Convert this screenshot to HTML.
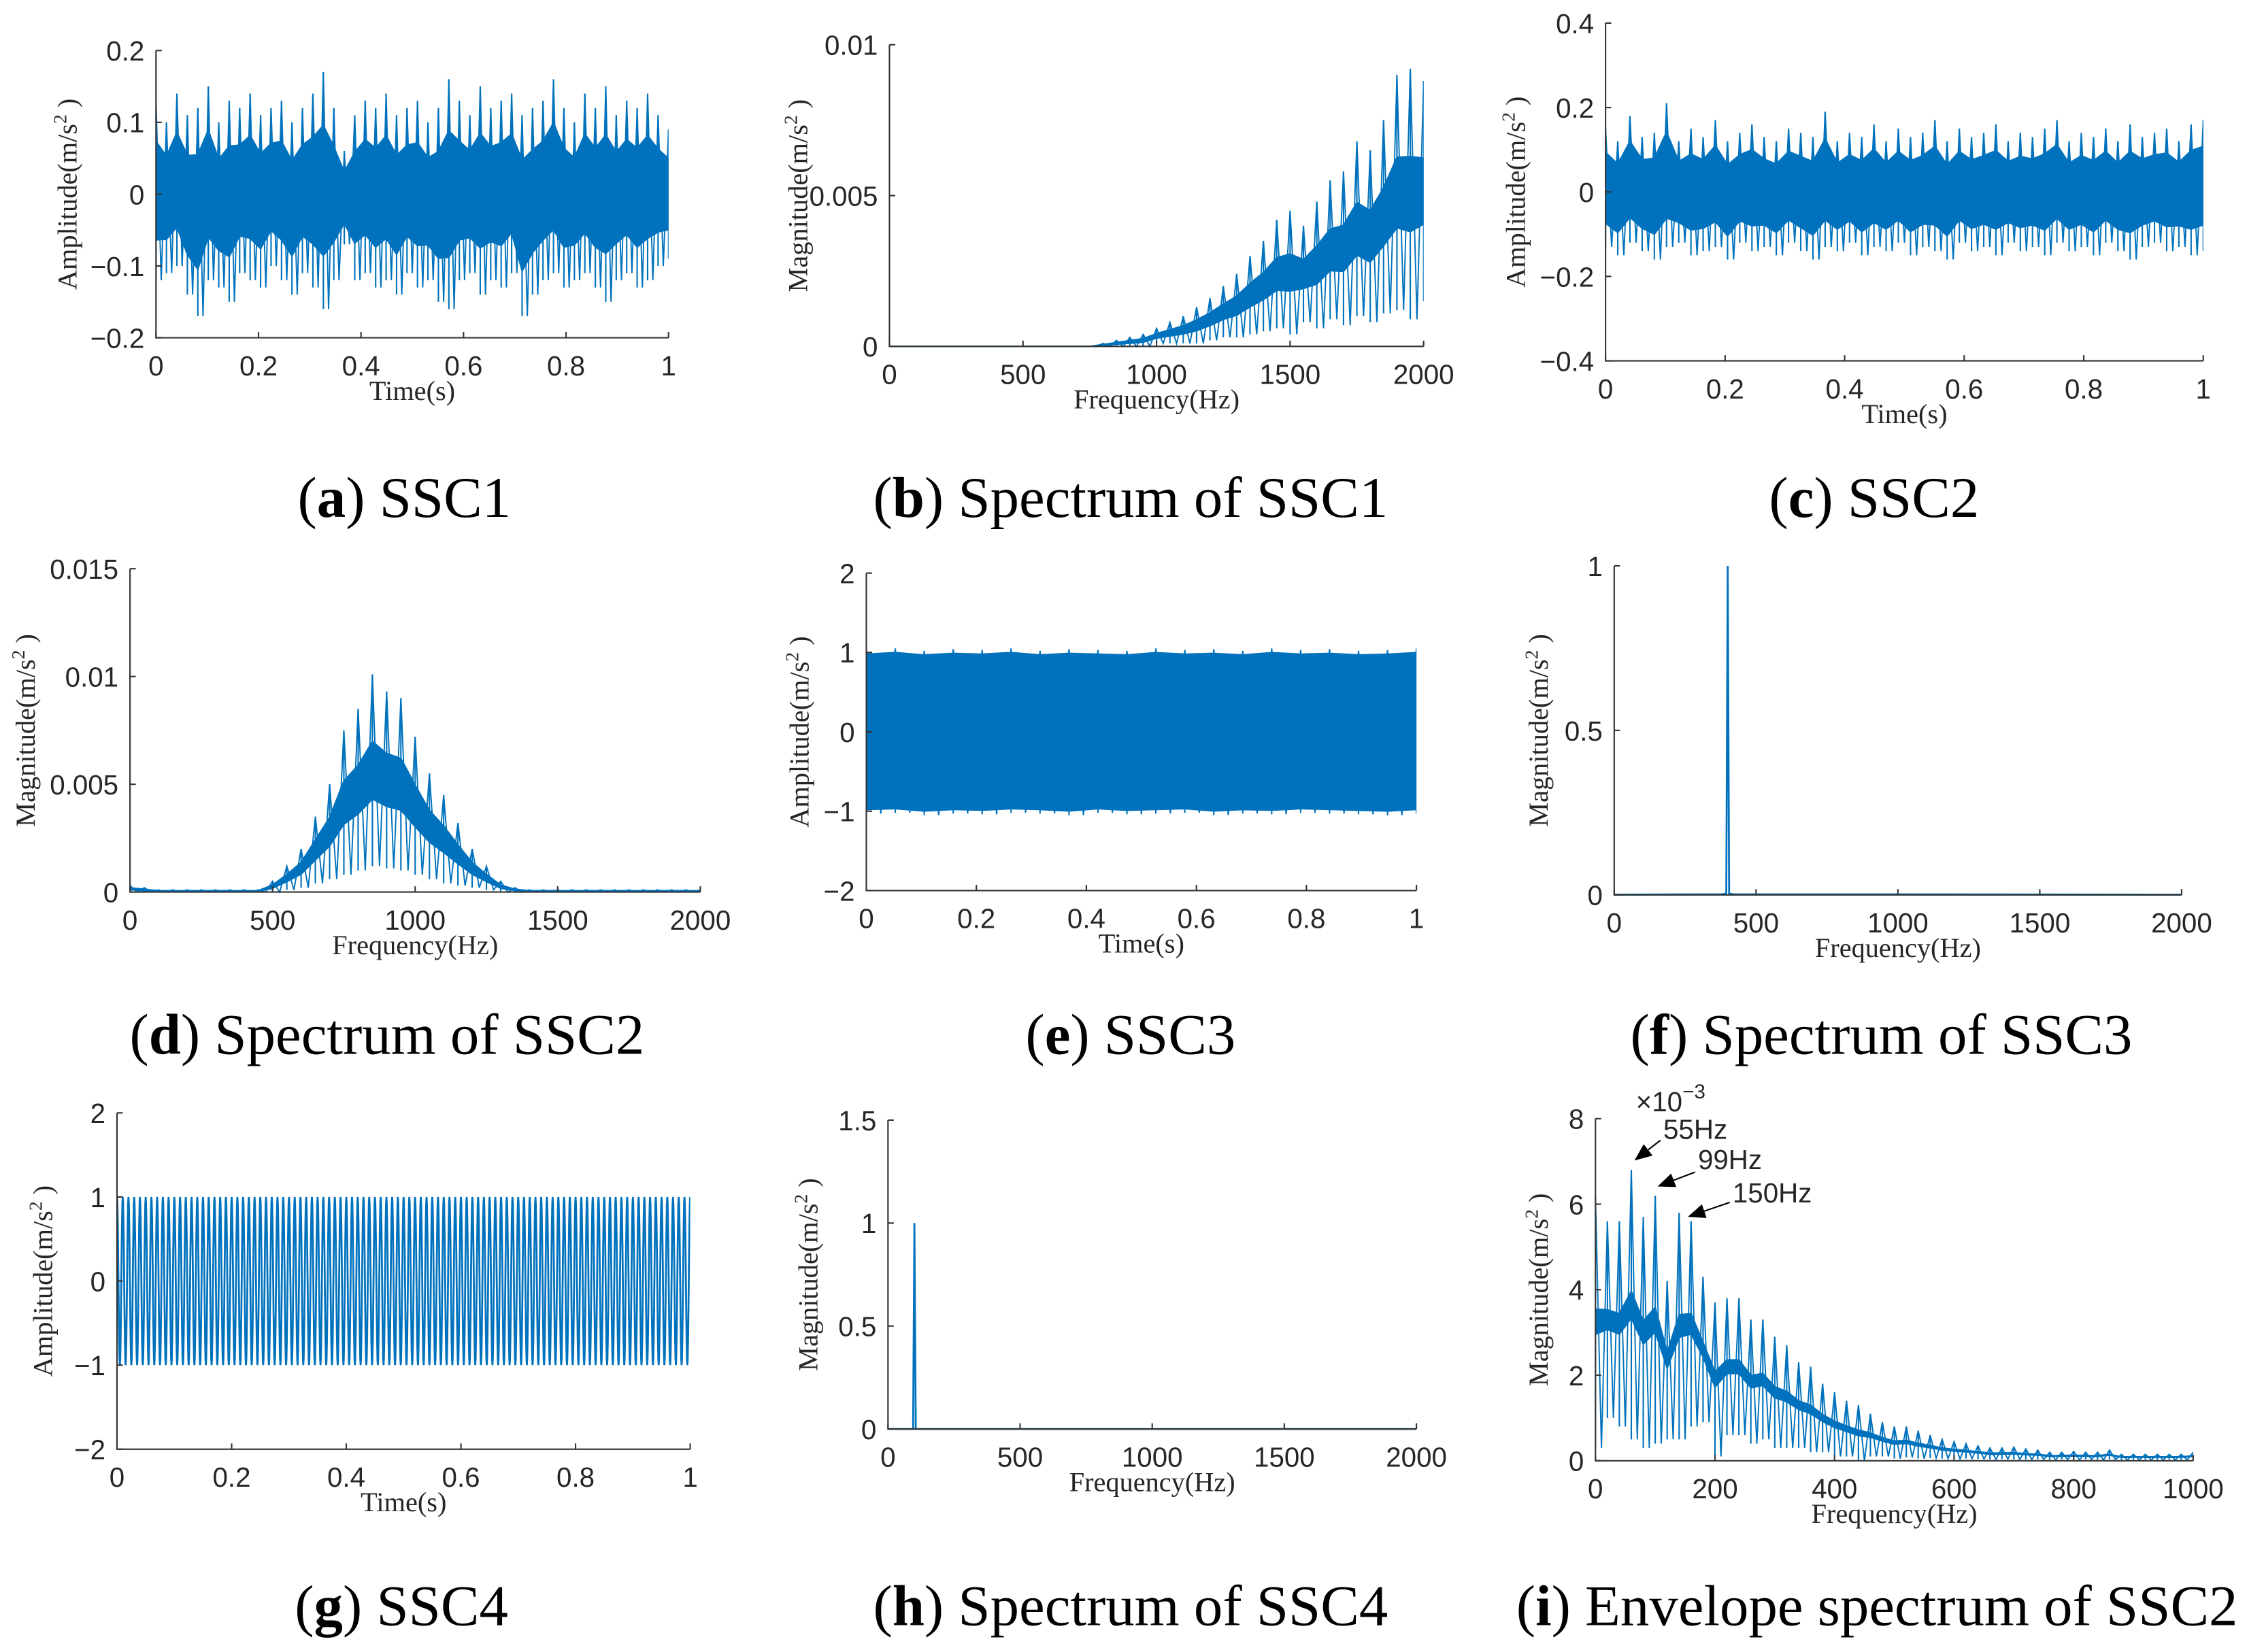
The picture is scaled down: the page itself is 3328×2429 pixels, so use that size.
<!DOCTYPE html>
<html><head><meta charset="utf-8">
<style>
html,body{margin:0;padding:0;background:#fff;}
svg{display:block;}
.tk{font-family:"Liberation Sans",sans-serif;font-size:19px;fill:#262626;}
.al{font-family:"Liberation Serif",serif;font-size:19px;fill:#262626;}
.cap{font-family:"Liberation Serif",serif;font-size:40px;fill:#000;}
</style></head>
<body>
<svg id="fig" width="3328" height="2429" viewBox="0 0 1568 1144.5" xmlns="http://www.w3.org/2000/svg"></svg>
<script>
// ---- data ----
const aHi=[0.13,0.10,0.14,0.11,0.12,0.15,0.10,0.13,0.12,0.14,0.11,0.12,0.13,0.10,0.12,0.14,0.17,0.12,0.06,0.11,0.13,0.12,0.14,0.11,0.12,0.13,0.10,0.12,0.16,0.13,0.11,0.15,0.12,0.13,0.14,0.11,0.12,0.13,0.16,0.12,0.10,0.14,0.12,0.15,0.11,0.13,0.12,0.14,0.11,0.09];
const aLo=[-0.12,-0.11,-0.10,-0.14,-0.17,-0.12,-0.13,-0.15,-0.11,-0.12,-0.13,-0.10,-0.12,-0.14,-0.11,-0.13,-0.16,-0.12,-0.07,-0.12,-0.11,-0.13,-0.12,-0.14,-0.11,-0.13,-0.12,-0.15,-0.16,-0.12,-0.11,-0.14,-0.12,-0.13,-0.11,-0.17,-0.14,-0.12,-0.11,-0.13,-0.12,-0.11,-0.13,-0.15,-0.12,-0.11,-0.13,-0.12,-0.10,-0.09];
const cHi=[0.15,0.12,0.18,0.13,0.14,0.21,0.12,0.15,0.13,0.17,0.12,0.14,0.16,0.13,0.12,0.15,0.14,0.13,0.19,0.12,0.14,0.13,0.16,0.12,0.15,0.13,0.14,0.17,0.12,0.15,0.13,0.14,0.16,0.12,0.14,0.13,0.15,0.17,0.12,0.14,0.13,0.15,0.12,0.16,0.13,0.14,0.15,0.12,0.16,0.17];
const cLo=[-0.13,-0.15,-0.12,-0.14,-0.16,-0.13,-0.12,-0.15,-0.14,-0.13,-0.16,-0.12,-0.14,-0.13,-0.15,-0.12,-0.14,-0.16,-0.13,-0.14,-0.12,-0.15,-0.13,-0.14,-0.12,-0.15,-0.13,-0.14,-0.16,-0.12,-0.14,-0.13,-0.15,-0.12,-0.14,-0.13,-0.15,-0.12,-0.14,-0.13,-0.15,-0.12,-0.14,-0.16,-0.13,-0.12,-0.14,-0.13,-0.15,-0.14];
const bHi=[0,0,0,0,0,0,0,0,0,0,0,0,0,0,0,0,0.0001,0.0002,0.0003,0.0004,0.0006,0.0008,0.001,0.0013,0.0016,0.002,0.0024,0.003,0.0035,0.0042,0.0045,0.004,0.0048,0.0055,0.0058,0.0068,0.0065,0.0075,0.009,0.0092,0.0088];
const bLo=[0,0,0,0,0,0,0,0,0,0,0,0,0,0,0,0,0,0,0,0,0.0001,0.0001,0.0001,0.0001,0.0002,0.0003,0.0003,0.0004,0.0005,0.0006,0.0004,0.0008,0.0006,0.0009,0.0007,0.001,0.0008,0.0011,0.0012,0.0009,0.0015];
const dHi=[0.0003,0.0002,0.0001,0.0001,0.0001,0.0001,0.0001,0.0001,0.0001,0.0001,0.0005,0.0012,0.002,0.0035,0.005,0.0075,0.0085,0.0101,0.0093,0.009,0.0072,0.0055,0.0045,0.0032,0.002,0.0012,0.0005,0.0002,0.0001,0.0001,0.0001,0.0001,0.0001,0.0001,0.0001,0.0001,0.0001,0.0001,0.0001,0.0001,0.0001];
const dLo=[0,0,0,0,0,0,0,0,0,0,0,0.0001,0.0002,0.0004,0.0006,0.0008,0.0010,0.0012,0.0011,0.001,0.0008,0.0006,0.0004,0.0003,0.0002,0.0001,0,0,0,0,0,0,0,0,0,0,0,0,0,0,0];
const eHi=[1.03,1.05,1.02,1.04,1.03,1.05,1.02,1.04,1.03,1.02,1.05,1.03,1.04,1.02,1.05,1.03,1.04,1.02,1.03,1.05];
const eLo=[-1.03,-1.02,-1.05,-1.03,-1.04,-1.02,-1.03,-1.05,-1.02,-1.04,-1.03,-1.02,-1.05,-1.03,-1.04,-1.02,-1.03,-1.04,-1.05,-1.03];
const fFreq=[0,380,395,400,405,420,2000];
const fMag=[0.001,0.002,0.004,1.0,0.004,0.002,0.001];
const gFreq=[100];
const gAmp=[1.0];
const hFreq=[0,95,100,105,2000];
const hMag=[0,0,1.0,0,0];
const iHi=[6.2,5.6,5.6,6.8,5.7,6.2,4.2,5.8,5.6,4.3,3.7,3.8,3.8,3.3,3.3,2.9,2.7,2.3,2.2,1.8,1.6,1.4,1.3,1.1,0.9,0.8,0.8,0.7,0.6,0.5,0.45,0.4,0.35,0.3,0.3,0.32,0.28,0.25,0.2,0.2,0.22,0.2,0.2,0.25,0.15,0.15,0.15,0.15,0.15,0.15,0.2];
const iLo=[0.3,1.0,0.8,0.5,0.3,0.4,0.5,0.5,0.8,0.9,0.1,0.6,0.6,0.4,0.5,0.3,0.3,0.3,0.2,0.2,0.1,0.1,0.0,0.1,0.1,0.05,0.08,0.05,0.06,0.05,0.04,0.05,0.04,0.03,0.04,0.03,0.03,0.03,0.02,0.03,0.02,0.03,0.02,0.03,0.02,0.02,0.02,0.02,0.02,0.02,0.02];
const tTicks=["0","0.2","0.4","0.6","0.8","1"];
const f2kTicks=["0","500","1000","1500","2000"];
const iXTicks=["0","200","400","600","800","1000"];

const NS="http://www.w3.org/2000/svg";
const svg=document.getElementById('fig');
const BLUE="#0072BD";
let clipN=0;
function mk(tag,attrs,parent){const e=document.createElementNS(NS,tag);for(const k in attrs)e.setAttribute(k,attrs[k]);(parent||svg).appendChild(e);return e;}

function panel(c){
  const g=mk('g',{});
  
  
  const sx=v=>c.x0+(v-c.xmin)/(c.xmax-c.xmin)*(c.x1-c.x0);
  const sy=v=>c.yb+(v-c.ymin)/(c.ymax-c.ymin)*(c.yt-c.yb);
  const cid='clip'+(clipN++);
  const cp0=mk('clipPath',{id:cid},g);
  mk('rect',{x:c.x0,y:c.yt-5,width:c.x1-c.x0,height:c.yb-c.yt+10},cp0);
  const plot=mk('g',{"clip-path":`url(#${cid})`},g);
  
  
  c.draw(plot,sx,sy);
  const ax=mk('path',{d:`M${c.x0},${c.yt}V${c.yb}H${c.x1}`,fill:'none',stroke:'#333',"stroke-width":1},g);
  
  
  c.xt.forEach(t=>{const x=sx(parseFloat(t));
    mk('line',{x1:x,x2:x,y1:c.yb,y2:c.yb-4,stroke:'#333'},g);
    const tx=mk('text',{x:x,y:c.yb+26,"text-anchor":"middle",class:'tk'},g);tx.textContent=t;
    
    });
  c.yt_.forEach(t=>{const y=sy(t.v);
    mk('line',{x1:c.x0,x2:c.x0+4,y1:y,y2:y,stroke:'#333'},g);
    const tx=mk('text',{x:c.x0-8,y:y+7,"text-anchor":"end",class:'tk'},g);tx.textContent=t.l;
    
    });
  const xl=mk('text',{x:(c.x0+c.x1)/2,y:c.yb+43,"text-anchor":"middle",class:'al'},g);xl.textContent=c.xl;
  
  
  const ym=(c.yt+c.yb)/2;
  const yl=mk('text',{x:c.ylx,y:ym,"text-anchor":"middle",class:'al',transform:`rotate(-90 ${c.ylx} ${ym})`,dy:6},g);
  yl.innerHTML=c.yl+'(m/s<tspan dy="-7" font-size="13">2</tspan><tspan dy="7"> )</tspan>';
  
  
  const cp=mk('text',{x:c.cx,y:c.cy,"text-anchor":"middle",class:'cap'},g);
  cp.innerHTML='(<tspan font-weight="bold">'+c.letter+'</tspan>) '+c.cap;
  
  
}
function band(p,sx,sy,hi,lo,xmin,xmax,coreFrac){
  const n=hi.length, step=(xmax-xmin)/(n-1);
  const xs=hi.map((_,i)=>xmin+i*step);
  let up='',dn='';
  for(let i=0;i<n;i++){const m=lo[i]+(hi[i]-lo[i])*(1-coreFrac)/2;const M=hi[i]-(hi[i]-lo[i])*(1-coreFrac)/2;
    up+=`${sx(xs[i])},${sy(M)} `; dn=`${sx(xs[i])},${sy(m)} `+dn;}
  const core=mk('polygon',{points:up+dn,fill:BLUE,stroke:BLUE,"stroke-width":1},p);
  
  
  let z='';
  for(let i=0;i<n;i++){
    z+=`${sx(xs[i])},${sy(hi[i])} `;
    if(i<n-1) z+=`${sx(xs[i]+step*0.5)},${sy(lo[i])} `;
  }
  const zl=mk('polyline',{points:z,fill:'none',stroke:BLUE,"stroke-width":0.9},p);
  
  
  for(let i=0;i<n;i++){
    const l=mk('line',{x1:sx(xs[i]),x2:sx(xs[i]),y1:sy(hi[i]),y2:sy(lo[i]),stroke:BLUE,"stroke-width":1},p);
    
    
  }
}
function line(p,sx,sy,xs,ys,w){
  const l=mk('polyline',{points:xs.map((x,i)=>`${sx(x)},${sy(ys[i])}`).join(' '),fill:'none',stroke:BLUE,"stroke-width":w||1.2},p);
  
  
}

panel({name:'chart-a-ssc1',letter:'a',cap:'SSC1',cx:280,cy:358,x0:108,x1:463,yb:234,yt:35,xmin:0,xmax:1,ymin:-0.2,ymax:0.2,
  xt:tTicks,yt_:[{v:0.2,l:'0.2'},{v:0.1,l:'0.1'},{v:0,l:'0'},{v:-0.1,l:'\u22120.1'},{v:-0.2,l:'\u22120.2'}],xl:'Time(s)',yl:'Amplitude',ylx:47,
  draw:(p,sx,sy)=>band(p,sx,sy,aHi,aLo,0,1,0.55)});
panel({name:'chart-b-spectrum-ssc1',letter:'b',cap:'Spectrum of SSC1',cx:783,cy:358,x0:616,x1:986,yb:240,yt:31,xmin:0,xmax:2000,ymin:0,ymax:0.01,
  xt:f2kTicks,yt_:[{v:0.01,l:'0.01'},{v:0.005,l:'0.005'},{v:0,l:'0'}],xl:'Frequency(Hz)',yl:'Magnitude',ylx:553,
  draw:(p,sx,sy)=>band(p,sx,sy,bHi,bLo,0,2000,0.3)});
panel({name:'chart-c-ssc2',letter:'c',cap:'SSC2',cx:1298,cy:358,x0:1112,x1:1526,yb:250,yt:16,xmin:0,xmax:1,ymin:-0.4,ymax:0.4,
  xt:tTicks,yt_:[{v:0.4,l:'0.4'},{v:0.2,l:'0.2'},{v:0,l:'0'},{v:-0.2,l:'\u22120.2'},{v:-0.4,l:'\u22120.4'}],xl:'Time(s)',yl:'Amplitude',ylx:1050,
  draw:(p,sx,sy)=>band(p,sx,sy,cHi,cLo,0,1,0.6)});
panel({name:'chart-d-spectrum-ssc2',letter:'d',cap:'Spectrum of SSC2',cx:268,cy:730,x0:90,x1:485,yb:618,yt:394,xmin:0,xmax:2000,ymin:0,ymax:0.015,
  xt:f2kTicks,yt_:[{v:0.015,l:'0.015'},{v:0.01,l:'0.01'},{v:0.005,l:'0.005'},{v:0,l:'0'}],xl:'Frequency(Hz)',yl:'Magnitude',ylx:18,
  draw:(p,sx,sy)=>band(p,sx,sy,dHi,dLo,0,2000,0.3)});
panel({name:'chart-e-ssc3',letter:'e',cap:'SSC3',cx:783,cy:730,x0:600,x1:981,yb:617,yt:397,xmin:0,xmax:1,ymin:-2,ymax:2,
  xt:tTicks,yt_:[{v:2,l:'2'},{v:1,l:'1'},{v:0,l:'0'},{v:-1,l:'\u22121'},{v:-2,l:'\u22122'}],xl:'Time(s)',yl:'Amplitude',ylx:554,
  draw:(p,sx,sy)=>band(p,sx,sy,eHi,eLo,0,1,0.95)});
panel({name:'chart-f-spectrum-ssc3',letter:'f',cap:'Spectrum of SSC3',cx:1303,cy:730,x0:1118,x1:1511,yb:620,yt:392,xmin:0,xmax:2000,ymin:0,ymax:1,
  xt:f2kTicks,yt_:[{v:1,l:'1'},{v:0.5,l:'0.5'},{v:0,l:'0'}],xl:'Frequency(Hz)',yl:'Magnitude',ylx:1066,
  draw:(p,sx,sy)=>line(p,sx,sy,fFreq,fMag,1.3)});
panel({name:'chart-g-ssc4',letter:'g',cap:'SSC4',cx:278,cy:1126,x0:81,x1:478,yb:1004,yt:771,xmin:0,xmax:1,ymin:-2,ymax:2,
  xt:tTicks,yt_:[{v:2,l:'2'},{v:1,l:'1'},{v:0,l:'0'},{v:-1,l:'\u22121'},{v:-2,l:'\u22122'}],xl:'Time(s)',yl:'Amplitude',ylx:30,
  draw:(p,sx,sy)=>{const xs=[],ys=[];const N=gFreq[0]*16;for(let i=0;i<=N;i++){const t=i/N;xs.push(t);ys.push(gAmp[0]*Math.sin(2*Math.PI*gFreq[0]*t+Math.PI/2));}line(p,sx,sy,xs,ys,1.3);}});
panel({name:'chart-h-spectrum-ssc4',letter:'h',cap:'Spectrum of SSC4',cx:783,cy:1126,x0:615,x1:981,yb:990,yt:776,xmin:0,xmax:2000,ymin:0,ymax:1.5,
  xt:f2kTicks,yt_:[{v:1.5,l:'1.5'},{v:1,l:'1'},{v:0.5,l:'0.5'},{v:0,l:'0'}],xl:'Frequency(Hz)',yl:'Magnitude',ylx:560,
  draw:(p,sx,sy)=>line(p,sx,sy,hFreq,hMag,1.3)});
panel({name:'chart-i-envelope-ssc2',letter:'i',cap:'Envelope spectrum of SSC2',cx:1300,cy:1126,x0:1105,x1:1519,yb:1012,yt:775,xmin:0,xmax:1000,ymin:0,ymax:8,
  xt:iXTicks,yt_:[{v:8,l:'8'},{v:6,l:'6'},{v:4,l:'4'},{v:2,l:'2'},{v:0,l:'0'}],xl:'Frequency(Hz)',yl:'Magnitude',ylx:1066,
  draw:(p,sx,sy)=>band(p,sx,sy,iHi,iLo,0,1000,0.1)});

const ex=mk('text',{x:1133,y:770,class:'tk'});
ex.innerHTML='\u00d710<tspan dy="-9" font-size="14">\u22123</tspan>';


const anns=[{t:'55Hz',tx:1152,ty:789,ax:1150,ay:790,hx:1132,hy:804},{t:'99Hz',tx:1176,ty:810,ax:1174,ay:812,hx:1148,hy:822},{t:'150Hz',tx:1200,ty:833,ax:1198,ay:833,hx:1169,hy:843}];
anns.forEach(a=>{
  const g=mk('g',{});
  
  
  const dx=a.hx-a.ax,dy=a.hy-a.ay,L=Math.hypot(dx,dy),ux=dx/L,uy=dy/L;
  const bx=a.hx-ux*12,by=a.hy-uy*12;
  mk('line',{x1:a.ax,y1:a.ay,x2:bx,y2:by,stroke:'#000',"stroke-width":1},g);
  mk('polygon',{points:`${a.hx},${a.hy} ${bx-uy*5},${by+ux*5} ${bx+uy*5},${by-ux*5}`,fill:'#000'},g);
  const t=mk('text',{x:a.tx,y:a.ty,class:'tk'},g);t.textContent=a.t;
});
</script>
</body></html>
